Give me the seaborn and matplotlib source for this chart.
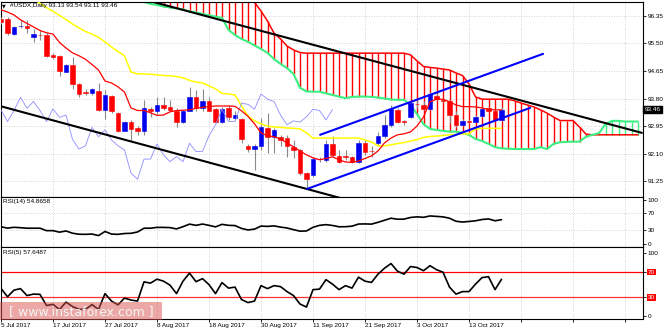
import numpy as np
import matplotlib
matplotlib.use("Agg")
import matplotlib.pyplot as plt
import matplotlib.transforms as mtransforms
from matplotlib.patches import Rectangle
import seaborn as sns

# ---------------- data ----------------
date_labels = ["5 Jul 2017", "17 Jul 2017", "27 Jul 2017", "8 Aug 2017", "18 Aug 2017",
               "30 Aug 2017", "11 Sep 2017", "21 Sep 2017", "3 Oct 2017", "13 Oct 2017"]

opens = [96.26, 96.25, 95.79, 96.04, 96.04, 95.71, 95.76, 95.77, 95.15, 95.12,
         94.63, 94.84, 94.25, 94.00, 93.98, 94.04, 93.45, 93.88, 93.35, 92.81,
         93.06, 92.88, 92.81, 93.48, 93.40, 93.60, 93.53, 93.40, 93.09, 93.43,
         93.84, 93.50, 93.73, 93.47, 93.06, 93.52, 93.19, 93.16, 92.34, 92.24,
         92.32, 92.88, 92.61, 92.62, 92.59, 92.30, 92.21, 91.50, 91.44, 91.92,
         91.91, 92.40, 92.03, 92.02, 91.99, 91.85, 92.44, 92.19, 92.44, 92.65,
         92.99, 93.45, 93.11, 93.22, 93.64, 93.60, 93.47, 93.88, 93.76, 93.71,
         93.29, 92.99, 93.11, 93.09, 93.26, 93.50, 93.43, 93.13]
highs = [96.32, 96.33, 96.04, 96.21, 96.21, 95.94, 95.92, 95.82, 95.22, 95.15,
         94.87, 95.09, 94.28, 94.09, 94.13, 94.29, 94.07, 93.91, 93.39, 93.11,
         93.14, 92.95, 93.76, 93.55, 93.86, 93.86, 93.76, 93.50, 93.45, 94.15,
         94.07, 94.09, 93.86, 93.51, 93.55, 93.60, 93.40, 93.19, 92.40, 92.40,
         93.20, 93.35, 92.89, 92.68, 92.68, 92.52, 92.24, 91.54, 92.01, 92.01,
         92.52, 92.65, 92.21, 92.21, 92.03, 92.52, 92.52, 92.34, 92.78, 93.29,
         93.60, 93.50, 93.14, 93.71, 93.76, 93.71, 94.01, 93.96, 93.82, 93.76,
         93.40, 93.17, 93.16, 93.29, 93.55, 93.54, 93.45, 93.54]
lows = [96.10, 95.76, 95.76, 95.97, 95.83, 95.53, 95.61, 95.09, 95.01, 94.50,
        94.62, 94.09, 93.86, 93.91, 93.91, 93.40, 93.16, 93.35, 92.78, 92.80,
        92.52, 92.68, 92.68, 93.24, 93.33, 93.45, 93.40, 92.92, 93.04, 93.41,
        93.40, 93.40, 93.40, 93.04, 93.04, 93.14, 93.14, 92.42, 92.16, 91.60,
        92.21, 92.11, 92.11, 92.34, 92.01, 91.96, 91.44, 91.03, 91.39, 91.85,
        91.85, 92.01, 91.80, 91.91, 91.80, 91.80, 92.06, 92.01, 92.37, 92.57,
        92.93, 93.04, 92.99, 93.19, 93.50, 93.45, 93.45, 93.76, 93.70, 93.04,
        92.93, 92.96, 93.05, 93.06, 93.24, 93.40, 93.12, 93.11]
closes = [96.16, 95.82, 96.00, 96.05, 95.99, 95.79, 95.75, 95.12, 95.08, 94.66,
          94.84, 94.25, 93.94, 93.98, 94.09, 93.45, 93.91, 93.43, 92.81, 93.06,
          92.85, 92.81, 93.50, 93.40, 93.60, 93.52, 93.45, 93.09, 93.43, 93.84,
          93.50, 93.71, 93.43, 93.09, 93.48, 93.22, 93.29, 92.54, 92.24, 92.34,
          92.91, 92.62, 92.83, 92.52, 92.34, 92.21, 91.50, 91.31, 91.93, 91.93,
          92.40, 92.06, 91.85, 92.01, 91.85, 92.42, 92.16, 92.17, 92.65, 92.99,
          93.47, 93.09, 93.09, 93.66, 93.62, 93.47, 93.94, 93.78, 93.71, 93.29,
          92.99, 93.11, 93.07, 93.24, 93.47, 93.43, 93.14, 93.46]

tenkan = [96.54, 96.47, 96.38, 96.23, 96.12, 96.01, 95.90, 95.83, 95.79, 95.53,
          95.36, 95.21, 95.12, 95.01, 94.85, 94.68, 94.34, 94.28, 94.16, 94.00,
          93.51, 93.43, 93.43, 93.36, 93.28, 93.29, 93.39, 93.43, 93.44, 93.45,
          93.50, 93.53, 93.55, 93.57, 93.57, 93.57, 93.56, 93.42, 93.25, 93.02,
          92.74, 92.65, 92.62, 92.55, 92.43, 92.31, 92.18, 92.06, 91.97, 91.91,
          91.95, 92.00, 91.91, 91.84, 91.83, 91.87, 91.95, 92.03, 92.18, 92.43,
          92.58, 92.68, 92.71, 92.77, 92.95, 93.23, 93.70, 93.78, 93.78, 93.70,
          93.60, 93.55, 93.55, 93.54, 93.51, 93.46, 93.45, 93.45]
kijun = [97.00, 97.00, 97.00, 97.00, 97.00, 96.88, 96.74, 96.61, 96.49, 96.37,
         96.24, 96.10, 95.98, 95.87, 95.79, 95.69, 95.55, 95.39, 95.25, 95.12,
         94.62, 94.56, 94.56, 94.55, 94.53, 94.51, 94.50, 94.48, 94.44, 94.36,
         94.31, 94.28, 94.19, 94.10, 93.96, 93.94, 93.91, 93.57, 93.26, 93.11,
         93.02, 92.95, 92.92, 92.91, 92.89, 92.88, 92.86, 92.74, 92.58, 92.58,
         92.58, 92.58, 92.58, 92.58, 92.58, 92.58, 92.52, 92.46, 92.34, 92.34,
         92.37, 92.41, 92.44, 92.49, 92.53, 92.60, 92.63, 92.64, 92.66, 92.68,
         92.69, 92.71, 92.71, 92.86, 92.88, 92.88, 92.88, 92.88]

cloud_start = 20
span_a = [97.00, 96.88, 96.78, 96.72, 96.69, 96.64, 96.61, 96.58, 96.55, 96.49,
          96.46, 96.41, 96.37, 96.33, 96.29, 95.92, 95.76, 95.64, 95.55, 95.44,
          95.33, 95.21, 95.02, 94.87, 94.74, 94.56, 94.13, 94.02, 94.01, 94.01,
          93.96, 93.91, 93.86, 93.81, 93.85, 93.86, 93.86, 93.85, 93.83, 93.80,
          93.77, 93.76, 93.76, 93.60, 93.32, 93.01, 92.86, 92.83, 92.80, 92.78,
          92.78, 92.74, 92.68, 92.55, 92.49, 92.40, 92.30, 92.26, 92.25, 92.24,
          92.24, 92.24, 92.24, 92.30, 92.24, 92.40, 92.45, 92.46, 92.47, 92.47,
          92.62, 92.68, 92.73, 93.01, 93.11, 93.11, 93.09, 93.09, 93.09]
span_b = [97.20] * 19 + [
          96.77, 96.50, 96.19, 95.82, 95.64, 95.42, 95.30, 95.22] + [95.20] * 16 + [
          95.15, 94.96, 94.79, 94.76, 94.74, 94.71, 94.68, 94.59, 94.51, 94.25,
          93.85] + [93.78] * 5 + [
          93.73, 93.66, 93.60, 93.54, 93.45, 93.35, 93.23, 93.12, 93.12, 93.12,
          92.92, 92.70] + [92.68] * 8

rsi14 = [38.5, 35.4, 37.3, 36.4, 35.2, 35.2, 35.2, 29.6, 29.6, 26.1,
         28.9, 23.7, 21.4, 21.1, 21.8, 18.3, 27.7, 21.8, 21.1, 23.0,
         23.5, 26.5, 35.2, 35.2, 37.1, 37.1, 36.6, 33.6, 38.7, 44.6,
         41.8, 44.8, 41.8, 38.3, 44.1, 41.8, 41.3, 34.7, 31.2, 33.1,
         40.1, 39.4, 40.6, 37.8, 35.7, 31.9, 28.4, 28.9, 37.3, 41.8,
         43.4, 41.5, 38.5, 38.7, 39.9, 44.8, 45.1, 44.6, 48.8, 53.5,
         58.2, 55.9, 56.1, 59.9, 61.3, 60.3, 63.4, 62.4, 61.3, 58.2,
         51.2, 49.5, 50.7, 52.3, 55.2, 56.6, 52.3, 54.8658]
rsi5 = [43.2, 30.0, 40.5, 42.9, 31.9, 34.2, 33.8, 16.1, 18.0, 9.8,
        21.6, 14.5, 10.1, 10.1, 17.7, 9.8, 35.0, 23.2, 17.2, 27.9,
        24.8, 23.2, 53.6, 51.6, 57.9, 54.7, 48.4, 35.0, 54.7, 67.4,
        53.9, 58.7, 49.2, 35.0, 52.4, 43.7, 45.3, 25.6, 20.8, 23.2,
        47.6, 42.9, 47.6, 46.1, 38.2, 31.9, 18.5, 13.7, 41.3, 42.1,
        57.1, 50.0, 41.3, 47.6, 43.7, 61.0, 54.7, 52.7, 65.8, 75.2,
        82.6, 70.5, 65.8, 77.9, 76.3, 71.3, 79.2, 72.9, 68.9, 45.3,
        34.2, 38.2, 38.2, 50.0, 60.3, 61.8, 41.3, 57.6487]

# trend lines: (bar index, price) end points
black_upper_x = [21.4, 98.6]
black_upper_y = [96.89, 92.74]
black_lower_x = [0.0, 52.0]
black_lower_y = [93.56, 90.74]
blue_upper_x = [49.1, 83.4]
blue_upper_y = [92.68, 95.18]
blue_lower_x = [47.1, 81.4]
blue_lower_y = [91.01, 93.51]

price_ticks = [91.25, 92.10, 92.95, 93.80, 94.65, 95.50, 96.35]
rsi_ticks = [0, 30, 70, 100]

# ---------------- style ----------------
sns.set_style("white")
plt.rcParams['font.family'] = ['Liberation Sans', 'DejaVu Sans']

RED = '#ff0000'
BLUE = '#0000ee'
GREEN = '#3cf080'
YELLOW = '#ffff00'
CHIKOU = '#8c8cff'
GRIDC = '#c4c4c4'
FS = 4.6

W, H = 665, 330
fig = plt.figure(figsize=(W / 100, H / 100), dpi=100)
fig.patch.set_facecolor('white')


def rect(x0, y0, x1, y1):
    return [x0 / W, 1 - y1 / H, (x1 - x0) / W, (y1 - y0) / H]


ax = fig.add_axes(rect(1, 2, 643, 197))
ax14 = fig.add_axes(rect(1, 197, 643, 247))
ax5 = fig.add_axes(rect(1, 247, 643, 319))

XMAX = 642 / 6.5
grid_ticks = np.arange(0, 99, 8)
for a in (ax, ax14, ax5):
    a.set_facecolor('white')
    a.set_xlim(0, XMAX)
    a.set_xticks(grid_ticks)
    a.xaxis.grid(True, ls=(0, (1, 2)), color=GRIDC, lw=0.6)
    a.set_axisbelow(True)
    for s in a.spines.values():
        s.set_color('black')
        s.set_linewidth(0.8)
    a.yaxis.tick_right()
    a.tick_params(axis='y', length=2, width=0.6, pad=1.5, labelsize=FS,
                  colors='black', left=False, right=True)
    a.set_xlabel('')
    a.set_ylabel('')

for a in (ax, ax14):
    a.tick_params(axis='x', bottom=False, labelbottom=False)

# ---------------- main price panel ----------------
ax.set_ylim(90.76, 96.78)
ax.set_yticks(price_ticks)
ax.set_yticklabels([f"{v:.2f}" for v in price_ticks])
ax.yaxis.grid(True, ls=(0, (1, 2)), color=GRIDC, lw=0.6)

idx = np.arange(len(opens))
o = np.array(opens); h = np.array(highs); l = np.array(lows); c = np.array(closes)

# Ichimoku cloud hatching
cidx = np.arange(cloud_start, cloud_start + len(span_a))
sa = np.array(span_a); sb = np.array(span_b)
hcol = np.where(sa >= sb, GREEN, RED)
ax.vlines(cidx, np.minimum(sa, sb), np.maximum(sa, sb), colors=hcol, lw=1.0, zorder=2)
sns.lineplot(x=cidx, y=sb, ax=ax, color=RED, linewidth=1.1, zorder=2.5,
             estimator=None, sort=False, legend=False)
sns.lineplot(x=cidx, y=sa, ax=ax, color=GREEN, linewidth=1.5, zorder=2.5,
             estimator=None, sort=False, legend=False)

# candles
col = np.where(c >= o, BLUE, RED)
ax.vlines(idx, l, h, colors='#8a8a8a', lw=0.8, zorder=3)
ax.bar(idx, np.maximum(np.abs(c - o), 0.012), bottom=np.minimum(o, c), width=0.62,
       color=col, edgecolor=col, linewidth=0.4, zorder=3.2)

# Ichimoku lines
sns.lineplot(x=idx, y=kijun, ax=ax, color=YELLOW, linewidth=1.1, zorder=4,
             estimator=None, sort=False, legend=False)
sns.lineplot(x=idx, y=tenkan, ax=ax, color=RED, linewidth=0.9, zorder=4.1,
             estimator=None, sort=False, legend=False)
sns.lineplot(x=idx[:len(closes) - 26], y=c[26:], ax=ax, color=CHIKOU, linewidth=0.6,
             zorder=4, estimator=None, sort=False, legend=False)

# trend lines
for xs, ys, cc in ((black_upper_x, black_upper_y, 'black'),
                   (black_lower_x, black_lower_y, 'black'),
                   (blue_upper_x, blue_upper_y, '#0000ff'),
                   (blue_lower_x, blue_lower_y, '#0000ff')):
    sns.lineplot(x=xs, y=ys, ax=ax, color=cc, linewidth=1.5, zorder=5,
                 estimator=None, sort=False, legend=False)

# last price tag
trans = mtransforms.blended_transform_factory(ax.transAxes, ax.transData)
ax.text(1.0 + 1.5 / 642, closes[-1], f"{closes[-1]:.2f}", transform=trans,
        fontsize=FS, color='white', va='center', ha='left',
        bbox=dict(facecolor='black', edgecolor='black', pad=0.8))

# ---------------- RSI(14) ----------------
ax14.set_ylim(-8, 107)
ax14.set_yticks(rsi_ticks)
ax14.set_yticklabels([str(v) for v in rsi_ticks])
for lev in (30, 70):
    ax14.axhline(lev, ls=(0, (1, 2)), color=GRIDC, lw=0.6, zorder=1)
sns.lineplot(x=idx, y=rsi14, ax=ax14, color='black', linewidth=1.2,
             estimator=None, sort=False, legend=False)

# ---------------- RSI(5) ----------------
ax5.set_ylim(-5.2, 108.8)
ax5.set_yticks(rsi_ticks)
ax5.set_yticklabels([str(v) for v in rsi_ticks])
ax5.axhline(70, color=RED, lw=0.9, zorder=2)
ax5.axhline(30, color='#ff3030', lw=0.9, zorder=2)
sns.lineplot(x=idx, y=rsi5, ax=ax5, color='black', linewidth=1.2, zorder=3,
             estimator=None, sort=False, legend=False)
for lbl in ax5.get_yticklabels():
    if lbl.get_text() in ('70', '30'):
        lbl.set_color('white')
        lbl.set_bbox(dict(facecolor=RED, edgecolor='none', pad=0.6))

ax5.set_xticklabels(date_labels + [''] * (len(grid_ticks) - len(date_labels)), ha='left')
ax5.tick_params(axis='x', bottom=True, length=2, width=0.6, pad=1, labelsize=FS,
                colors='black')

# ---------------- texts ----------------
fig.text(2 / W, 1 - 6 / H, "\u25BC", fontsize=3.5, color='black', va='center',
         ha='left', family=['DejaVu Sans'])
fig.text(10 / W, 1 - 6 / H, "#USDX,Daily 93.13 93.54 93.11 93.46", fontsize=FS,
         color='black', va='center', ha='left')
fig.text(3 / W, 1 - 202 / H, "RSI(14) 54.8658", fontsize=FS, color='black',
         va='center', ha='left')
fig.text(3 / W, 1 - 252.5 / H, "RSI(5) 57.6487", fontsize=FS, color='black',
         va='center', ha='left')

# watermark
fig.add_artist(Rectangle((0, 1 - 320 / H), 162 / W, 18 / H, transform=fig.transFigure,
                         facecolor='#d9534f', edgecolor='none', alpha=0.5, zorder=10))
fig.text(81 / W, 1 - 312 / H, "[ www.instaforex.com ]", fontsize=9, color='#f4f4f4',
         va='center', ha='center', zorder=11, family=['DejaVu Sans'])

fig.savefig("out.png", dpi=100, facecolor='white')
